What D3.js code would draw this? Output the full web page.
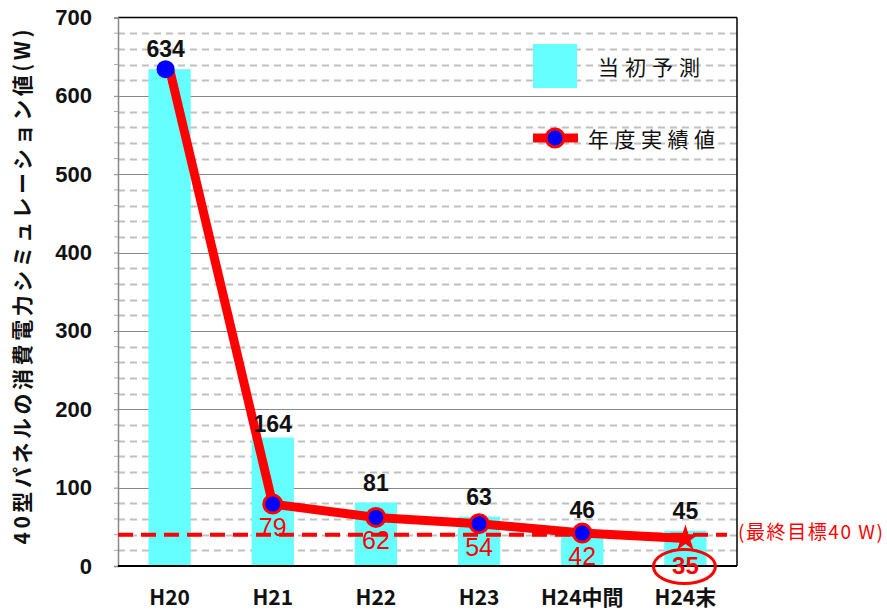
<!DOCTYPE html>
<html>
<head>
<meta charset="utf-8">
<script src="https://cdn.jsdelivr.net/npm/d3@7"></script>
<style>
  html, body { margin: 0; padding: 0; background: #fff; }
  svg { display: block; }
</style>
</head>
<body>
<svg id="chart" width="887" height="612"></svg>
<script>
// Fiscal-year categories
const categories = ["H20", "H21", "H22", "H23", "H24中間", "H24末"];
// Initial forecast (bars)
const forecast = [634, 164, 81, 63, 46, 45];
// Actual results per year (line)
const actual = [634, 79, 62, 54, 42, 35];
// Final target
const targetValue = 40;
const yTicks = [0, 100, 200, 300, 400, 500, 600, 700];

const svg = d3.select("#chart");
const plotL = 118, plotR = 737, plotT = 17.5, plotB = 566;

const x = d3.scaleBand().domain(categories).range([plotL, plotR]).paddingInner(0.59).paddingOuter(0.295);
const xc = d => x(d) + x.bandwidth() / 2;
const y = d3.scaleLinear().domain([0, 700]).range([plotB, plotT]);

const latin = "'Liberation Sans', Arial, sans-serif";
const jp = "'Noto Sans CJK JP', 'Liberation Sans', sans-serif";

// Minor dashed gridlines every 20
const minor = d3.range(20, 700, 20).filter(v => v % 100 !== 0);
svg.append("g").selectAll("line").data(minor).join("line")
  .attr("x1", plotL).attr("x2", plotR)
  .attr("y1", d => Math.round(y(d)) + 0.5).attr("y2", d => Math.round(y(d)) + 0.5)
  .attr("stroke", "#c0c0c0").attr("stroke-width", 2).attr("stroke-dasharray", "7,5");

// Major solid gridlines
svg.append("g").selectAll("line").data(yTicks.filter(v => v > 0 && v < 700)).join("line")
  .attr("x1", plotL).attr("x2", plotR)
  .attr("y1", d => Math.round(y(d)) + 0.5).attr("y2", d => Math.round(y(d)) + 0.5)
  .attr("stroke", "#888").attr("stroke-width", 1.2);

// Bars: initial forecast
svg.append("g").selectAll("rect").data(categories).join("rect")
  .attr("x", d => x(d)).attr("width", x.bandwidth())
  .attr("y", (d, i) => y(forecast[i])).attr("height", (d, i) => plotB - y(forecast[i]))
  .attr("fill", "#66ffff");

// Plot frame: top and right in black
svg.append("line").attr("x1", plotL).attr("x2", plotR).attr("y1", plotT).attr("y2", plotT)
  .attr("stroke", "#000").attr("stroke-width", 1.5);
svg.append("line").attr("x1", plotR).attr("x2", plotR).attr("y1", plotT).attr("y2", plotB)
  .attr("stroke", "#000").attr("stroke-width", 1.5);

// Y axis
const yAxis = svg.append("g").attr("transform", `translate(${plotL},0)`)
  .call(d3.axisLeft(y).tickValues(yTicks).tickSize(4).tickPadding(22));
yAxis.select(".domain").attr("stroke", "#888").attr("stroke-width", 1.5);
yAxis.selectAll(".tick line").attr("stroke", "#888");
yAxis.selectAll("text").attr("font-family", latin).attr("font-size", 22).attr("font-weight", "bold").attr("fill", "#111");
svg.append("g").selectAll("line").data(minor).join("line")
  .attr("x1", plotL - 4).attr("x2", plotL)
  .attr("y1", d => y(d)).attr("y2", d => y(d)).attr("stroke", "#aaa");

svg.append("line").attr("x1", plotL).attr("x2", plotR).attr("y1", plotB).attr("y2", plotB)
  .attr("stroke", "#000").attr("stroke-width", 2);

// X labels
svg.append("g").selectAll("text").data(categories).join("text")
  .attr("x", d => xc(d)).attr("y", 605)
  .attr("text-anchor", "middle")
  .attr("font-family", jp).attr("font-size", 21).attr("font-weight", "bold").attr("fill", "#111")
  .text(d => d);

// Y axis title
svg.append("text")
  .attr("transform", `translate(30,287) rotate(-90)`)
  .attr("text-anchor", "middle")
  .attr("font-family", jp).attr("font-size", 21).attr("font-weight", "bold").attr("fill", "#111")
  .attr("textLength", 515).attr("lengthAdjust", "spacing")
  .text("40型パネルの消費電力シミュレーション値(W)");

// Target dashed line
svg.append("line")
  .attr("x1", plotL).attr("x2", plotR - 10)
  .attr("y1", y(targetValue)).attr("y2", y(targetValue))
  .attr("stroke", "#ff0000").attr("stroke-width", 4).attr("stroke-dasharray", "15,8");
svg.append("text")
  .attr("x", plotR + 1).attr("y", y(targetValue) + 4)
  .attr("font-family", jp).attr("font-size", 19).attr("fill", "#ff0000")
  .attr("textLength", 145).attr("lengthAdjust", "spacing")
  .text("(最終目標40 W)");

// Actual results line
const line = d3.line().x((d, i) => xc(categories[i])).y(d => y(d));
svg.append("path").datum(actual)
  .attr("d", line).attr("fill", "none")
  .attr("stroke", "#ff0000").attr("stroke-width", 9).attr("stroke-linejoin", "round");

// Markers: circles for all but the last point, star for the last
const last = actual.length - 1;
svg.append("g").selectAll("circle").data(actual.slice(0, last)).join("circle")
  .attr("cx", (d, i) => xc(categories[i]) - (i === 0 ? 4 : 0)).attr("cy", d => y(d))
  .attr("r", 9)
  .attr("fill", "#0000ff")
  .attr("stroke", (d, i) => i === 0 ? "none" : "#ff0000").attr("stroke-width", 3);
svg.append("path")
  .attr("d", d3.symbol(d3.symbolStar, 220)())
  .attr("transform", `translate(${xc(categories[last])},${y(actual[last])})`)
  .attr("fill", "#ff0000");

// Forecast value labels
svg.append("g").selectAll("text").data(forecast).join("text")
  .attr("x", (d, i) => xc(categories[i]) - (i === 0 ? 4 : 0)).attr("y", (d, i) => y(d) - (i === 1 ? 5 : 12))
  .attr("text-anchor", "middle")
  .attr("font-family", latin).attr("font-size", 23).attr("font-weight", "bold").attr("fill", "#111")
  .text(d => d);

// Actual value labels (not for the first point)
svg.append("g").selectAll("text").data(actual.slice(1)).join("text")
  .attr("x", (d, i) => xc(categories[i + 1])).attr("y", (d, i) => y(d) + (i + 1 === last ? 35 : 32))
  .attr("text-anchor", "middle")
  .attr("font-family", latin).attr("font-size", (d, i) => i + 1 === last ? 24 : 25)
  .attr("font-weight", (d, i) => i + 1 === last ? "bold" : "normal")
  .attr("fill", "#ff0000")
  .text(d => d);

// Highlight ellipse on final value
svg.append("ellipse")
  .attr("cx", xc(categories[last]) - 1).attr("cy", y(actual[last]) + 28)
  .attr("rx", 31).attr("ry", 17)
  .attr("fill", "none").attr("stroke", "#ff0000").attr("stroke-width", 3);

// Legend
const lg = svg.append("g");
lg.append("rect").attr("x", 533).attr("y", 44).attr("width", 44).attr("height", 44).attr("fill", "#66ffff");
lg.append("text").attr("x", 598).attr("y", 75)
  .attr("font-family", jp).attr("font-size", 21).attr("fill", "#111")
  .attr("textLength", 102).attr("lengthAdjust", "spacing").text("当初予測");
lg.append("line").attr("x1", 533).attr("x2", 578).attr("y1", 138).attr("y2", 138)
  .attr("stroke", "#ff0000").attr("stroke-width", 9);
lg.append("circle").attr("cx", 555).attr("cy", 138).attr("r", 9)
  .attr("fill", "#0000ff").attr("stroke", "#ff0000").attr("stroke-width", 3);
lg.append("text").attr("x", 588).attr("y", 147)
  .attr("font-family", jp).attr("font-size", 21).attr("fill", "#111")
  .attr("textLength", 127).attr("lengthAdjust", "spacing").text("年度実績値");
</script>
</body>
</html>
